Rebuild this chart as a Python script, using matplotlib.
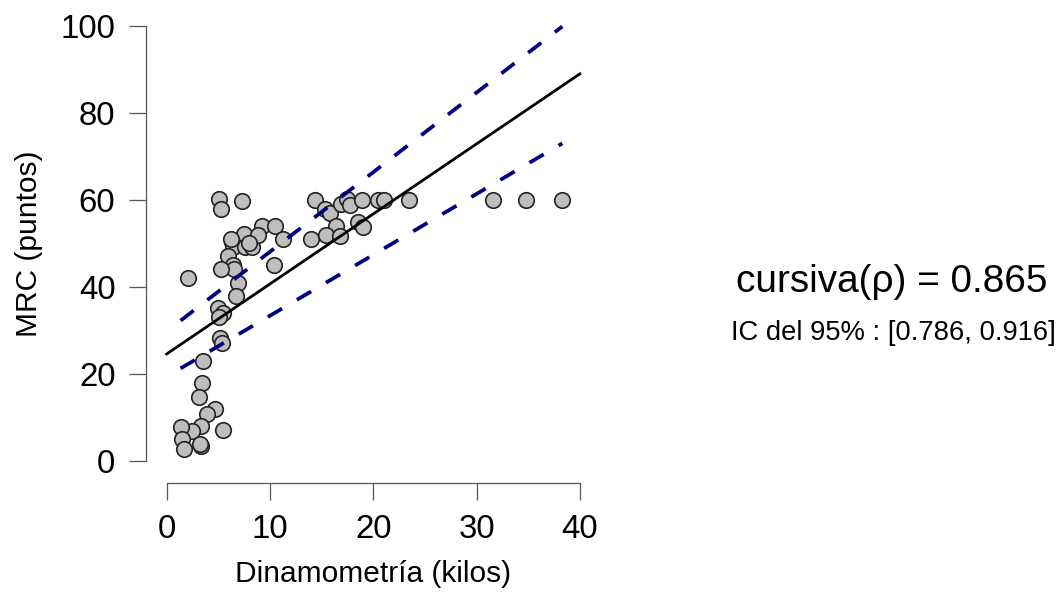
import numpy as np
import matplotlib
matplotlib.use("Agg")
import matplotlib.pyplot as plt

plt.rcParams['font.family'] = ['Liberation Sans', 'DejaVu Sans']

# Dinamometría (kilos) vs MRC (puntos)
dinamometria = [5.1, 5.3, 7.3, 9.2, 10.5, 11.3, 7.5, 6.3, 6.4, 7.6, 8.3, 8.8, 5.9, 6.4,
                6.5, 5.3, 6.9, 6.7, 10.4, 2.1, 5.0, 5.5, 5.1, 5.2, 5.4, 3.5, 3.4, 3.1,
                4.7, 3.9, 3.3, 2.5, 1.35, 5.5, 1.45, 1.7, 3.3, 3.2, 14.4, 15.3, 15.8,
                16.9, 17.5, 17.7, 18.9, 20.5, 21.0, 23.45, 31.6, 34.8, 38.3, 16.4,
                18.5, 19.0, 14.0, 15.4, 16.8, 8.0, 6.2]
mrc = [60.2, 57.9, 59.8, 54.0, 54.1, 51.0, 52.1, 50.4, 49.1, 49.1, 49.3, 52.0, 47.1, 45.0,
       44.1, 44.1, 41.0, 38.0, 45.0, 42.0, 35.1, 34.0, 33.2, 28.2, 27.1, 23.0, 18.0, 14.8,
       12.0, 10.8, 8.0, 7.0, 7.9, 7.1, 5.0, 2.7, 3.4, 3.9, 60.0, 57.9, 57.1,
       59.1, 60.2, 58.9, 60.0, 60.0, 60.0, 60.0, 60.0, 60.0, 60.0, 54.0,
       55.0, 53.9, 51.0, 52.0, 51.7, 50.0, 51.0]

# straight lines as (intercept, slope)
ajuste = (24.6, 1.61)
ic_sup = (29.8, 1.83)
ic_inf = (19.4, 1.40)

rho_txt = "cursiva(ρ) = 0.865"
ic_txt = "IC del 95% : [0.786, 0.916]"

fig = plt.figure(figsize=(10.61, 5.93), dpi=100)
W, H = 1061, 593
ax = fig.add_axes([146 / W, (H - 483) / H, 450.4 / W, 474.4 / H])

x = np.array(dinamometria)
ax.scatter(x, mrc, s=125, facecolor='#bebebe', edgecolor='#222222', linewidth=1.2, zorder=2)

xs = np.array([0, 40])
ax.plot(xs, ajuste[0] + ajuste[1] * xs, color='black', lw=2.0, zorder=3)
xd = np.array([x.min(), x.max()])
for a, b in (ic_sup, ic_inf):
    ax.plot(xd, a + b * xd, color='#000080', lw=2.7, dashes=(4.4, 4.6),
            dash_capstyle='butt', zorder=3)

ax.set_xlim(-2.0, 41.6)
ax.set_ylim(-5.06, 104)
for s in ('top', 'right'):
    ax.spines[s].set_visible(False)
ax.spines['left'].set_bounds(0, 100)
ax.spines['bottom'].set_bounds(0, 40)
for s in ('left', 'bottom'):
    ax.spines[s].set_color('#555555')
    ax.spines[s].set_linewidth(0.9)
ax.set_xticks([0, 10, 20, 30, 40])
ax.set_yticks([0, 20, 40, 60, 80, 100])
ax.tick_params(length=12, width=0.9, color='#555555', labelsize=23.8, pad=10)

ax.set_xlabel("Dinamometría (kilos)", fontsize=21.5)
ax.set_ylabel("MRC (puntos)", fontsize=21.5)
ax.xaxis.set_label_coords(0.5047, -0.163)
ax.yaxis.set_label_coords(-0.228, 0.505)

fig.text(892 / W, 1 - 292 / H, rho_txt, fontsize=27.9, ha='center', va='baseline')
fig.text(893.5 / W, 1 - 340 / H, ic_txt, fontsize=19.7, ha='center', va='baseline')

fig.savefig("out.png", dpi=100)
